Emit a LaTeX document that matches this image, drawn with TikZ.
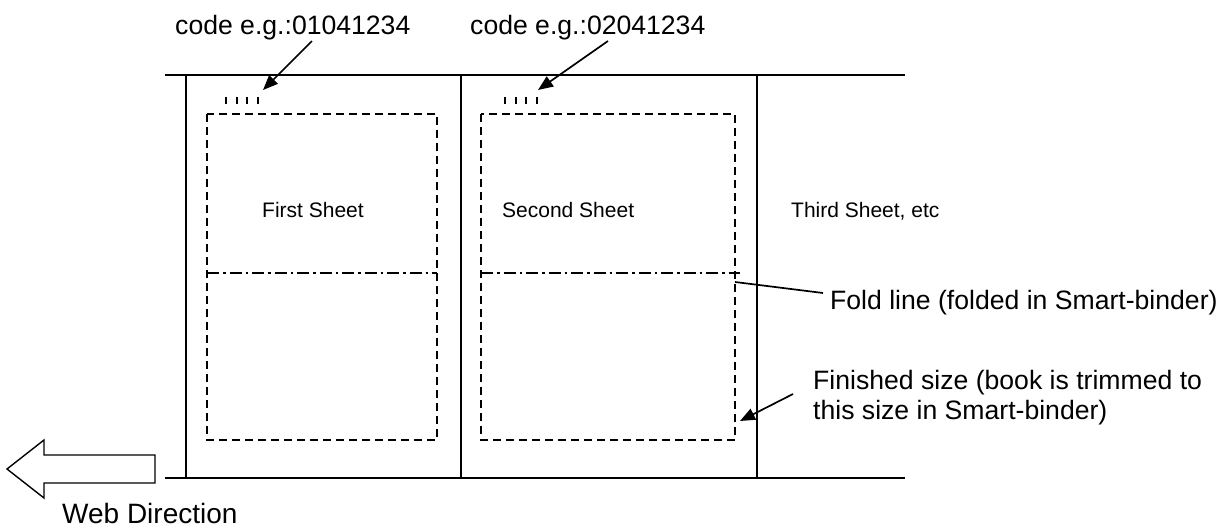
\documentclass[tikz,border=0pt]{standalone}
\usepackage{fontspec}
\setmainfont{Liberation Sans}
\usetikzlibrary{arrows.meta}
\begin{document}
\begin{tikzpicture}[x=1pt,y=-1pt,
  webline/.style={line width=2pt, black},
  trimline/.style={line width=1.7pt, dash pattern=on 8pt off 5pt},
  foldline/.style={line width=1.7pt, dash pattern=on 12pt off 4pt on 2.5pt off 4pt},
  tickmark/.style={line width=1.9pt},
  ptr/.style={line width=1.7pt, -{Triangle[length=15pt,width=12pt]}},
  leader/.style={line width=1.7pt},
  biglbl/.style={inner sep=0pt, anchor=base west, font=\fontsize{26.6}{30}\selectfont},
  sheetlbl/.style={inner sep=0pt, anchor=base west, font=\fontsize{21}{25}\selectfont},
  webarrow/.style={line width=1.4pt, line join=miter}]
\useasboundingbox (0,0) rectangle (1219,528);

% web (paper strip)
\draw[webline] (165,75) -- (905,75);
\draw[webline] (165,478) -- (905,478);
\draw[webline] (186,75) -- (186,478);
\draw[webline] (461,75) -- (461,478);
\draw[webline] (757,75) -- (757,478);

% finished size rectangles
\draw[trimline] (207,114) rectangle (437,440);
\draw[trimline] (481,114) rectangle (735,440);

% fold lines
\draw[foldline] (207,273) -- (437,273);
\draw[foldline] (481,273) -- (740,273);

% code ticks
\foreach \x in {226,236.7,247.3,258} \draw[tickmark] (\x,96.5) -- (\x,104);
\foreach \x in {505,515.7,526.3,537} \draw[tickmark] (\x,96.5) -- (\x,104);

% labels
\node[biglbl] (code1) at (175,34) {code e.g.:01041234};
\node[biglbl] (code2) at (470,34) {code e.g.:02041234};
\node[sheetlbl] (s1) at (262,217.5) {First Sheet};
\node[sheetlbl] (s2) at (502,217.5) {Second Sheet};
\node[sheetlbl] (s3) at (791,217.5) {Third Sheet, etc};
\node[biglbl] (fold) at (830,309.5) {Fold line (folded in Smart-binder)};
\node[biglbl] (fin1) at (813,389.5) {Finished size (book is trimmed to};
\node[biglbl] (fin2) at (813,419.5) {this size in Smart-binder)};
\node[biglbl, font=\fontsize{28}{32}\selectfont] (web) at (62,523) {Web Direction};

% connector coordinates
\coordinate (c1s) at (312,41);
\coordinate (c1t) at (263,90);
\coordinate (c2s) at (608,41);
\coordinate (c2t) at (538,90);
\coordinate (fs) at (823,293);
\coordinate (ft) at (735,282);
\coordinate (ns) at (793,394);
\coordinate (nt) at (740,421);

\draw[ptr] (c1s) -- (c1t);
\draw[ptr] (c2s) -- (c2t);
\draw[leader] (fs) -- (ft);
\draw[ptr] (ns) -- (nt);

% web direction arrow
\draw[webarrow] (7,469) -- (44,440) -- (44,455) -- (155,455) -- (155,483) -- (44,483) -- (44,498) -- cycle;
\end{tikzpicture}
\end{document}
